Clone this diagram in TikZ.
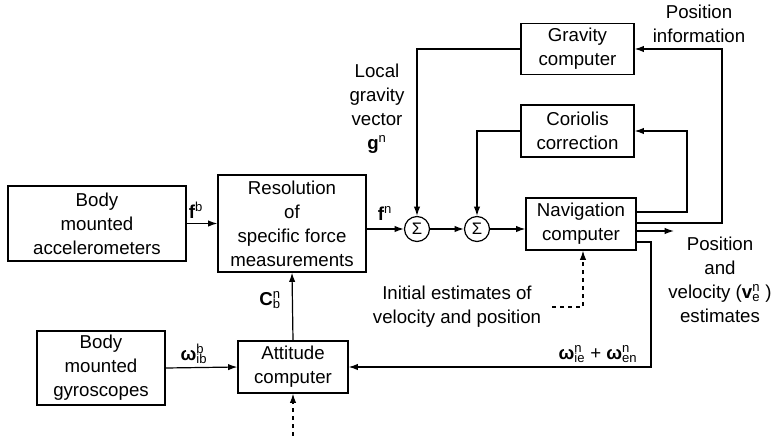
\documentclass[tikz,border=0pt]{standalone}
\usepackage{fontspec}
\setmainfont{Liberation Sans}
\usetikzlibrary{arrows.meta}
\newcommand{\supsub}[2]{\makebox[0pt][l]{\textsuperscript{#1}}\textsubscript{#2}}
\newcommand{\om}{\textbf{ω}}
\begin{document}
\begin{tikzpicture}[x=0.75pt,y=-0.75pt,
  font=\fontsize{14}{18}\selectfont,
  line width=0.9pt,
  >={Latex[length=7pt,width=4.8pt]},
  blk/.style={draw,align=center,inner sep=0pt},
  sumnode/.style={draw,circle,minimum size=18.75pt,inner sep=0pt,font=\fontsize{12.5}{13}\selectfont},
  lbl/.style={align=center,inner sep=0pt}]
\useasboundingbox (0,0) rectangle (772,436);
% blocks
\node[blk,minimum width=133.5pt,minimum height=56.25pt] (acc) at (97,223.5) {Body\\mounted\\accelerometers};
\node[blk,minimum width=111pt,minimum height=72.75pt] (res) at (292,223.5) {Resolution\\of\\specific force\\measurements};
\node[sumnode] (s1) at (417,229) {Σ};
\node[sumnode] (s2) at (477,229) {Σ};
\node[blk,minimum width=82.5pt,minimum height=39pt] (nav) at (581,224) {Navigation\\computer};
\node[blk,minimum width=84.75pt,minimum height=38.25pt] (grav) at (577.5,49) {Gravity\\computer};
\node[blk,minimum width=84.75pt,minimum height=39pt] (cor) at (577.5,131) {Coriolis\\correction};
\node[blk,minimum width=96pt,minimum height=55.5pt] (gyro) at (101,368) {Body\\mounted\\gyroscopes};
\node[blk,minimum width=82.5pt,minimum height=39pt] (att) at (293,367) {Attitude\\computer};
% helper coordinates
\coordinate (p1) at (687,212);
\coordinate (p2) at (722,223);
\coordinate (p3) at (651,242);
\coordinate (out) at (674,231);
\coordinate (ie) at (552,307);
\coordinate (bot) at (293,436);
% connectors
\draw[->] (acc.east) -- (res.west);
\draw[->] (res.east |- s1.west) -- (s1.west);
\draw[->] (s1.east) -- (s2.west);
\draw[->] (s2.east) -- (nav.west |- s2.east);
\draw[->] (grav.west) -| (s1.north);
\draw[->] (cor.west) -| (s2.north);
\draw[->] (nav.east |- p1) -- (p1) |- (cor.east);
\draw[->] (nav.east |- p2) -- (p2) |- (grav.east);
\draw[->] (nav.east |- out) -- (out);
\draw[->] (nav.east |- p3) -- (p3) |- (att.east);
\draw[->] (gyro.east) -- (att.west);
\draw[->] (att.north) -- (res.south);
\draw[->,dashed] (bot) -- (att.south);
\draw[->,dashed] (ie) -| ([xshift=1.5pt]nav.south);
% labels
\node[lbl] (lpos) at (699,24) {Position\\information};
\node[lbl] (lgrav) at (377,109) {Local\\gravity\\vector\\\textbf{g}\textsuperscript{n}};
\node[lbl] (lest) at (720,280) {Position\\and\\velocity (\textbf{v}\supsub{n}{e} )\\estimates};
\node[lbl] (linit) at (457,307) {Initial estimates of\\velocity and position};
\node[lbl] (lfb) at (196,210) {\textbf{f}\textsuperscript{b}};
\node[lbl] (lfn) at (385,213) {\textbf{f}\textsuperscript{n}};
\node[lbl] (lc) at (270,300) {\textbf{C}\supsub{n}{b}};
\node[lbl] (lw) at (194,354) {\om\supsub{b}{ib}};
\node[lbl] (lwie) at (598,354) {\om\supsub{n}{ie} + \om\supsub{n}{en}};
\end{tikzpicture}
\end{document}
